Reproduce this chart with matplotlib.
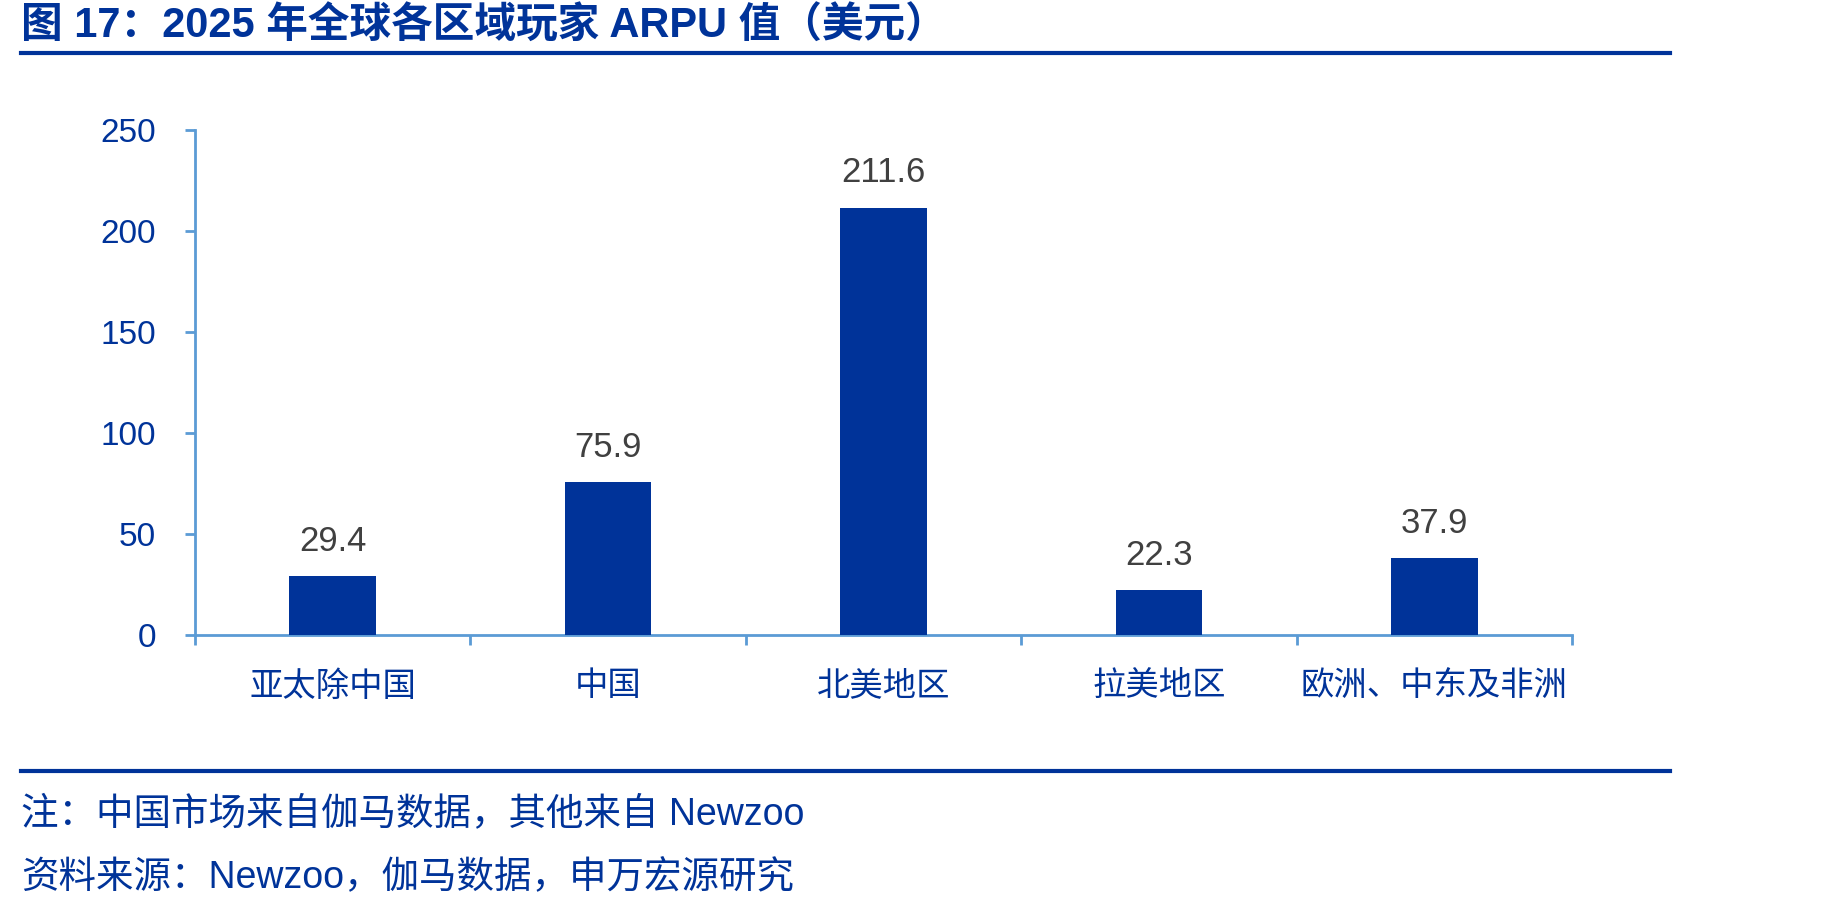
import matplotlib
matplotlib.use("Agg")
import matplotlib.pyplot as plt
from matplotlib.lines import Line2D

plt.rcParams['font.family'] = ['Liberation Sans', 'Noto Sans CJK SC', 'DejaVu Sans']

regions = ['亚太除中国', '中国', '北美地区', '拉美地区', '欧洲、中东及非洲']
arpu = [29.4, 75.9, 211.6, 22.3, 37.9]
yticks = [0, 50, 100, 150, 200, 250]

title = '图 17：2025 年全球各区域玩家 ARPU 值（美元）'
note = '注：中国市场来自伽马数据，其他来自 Newzoo'
source = '资料来源：Newzoo，伽马数据，申万宏源研究'

blue = '#003399'
axis_blue = '#5B9BD5'
label_grey = '#404040'

fig = plt.figure(figsize=(18.41, 9.14), dpi=100)
ax = fig.add_axes([0.1059, 0.3053, 0.748, 0.5525])

x = list(range(len(regions)))
bars = ax.bar(x, arpu, width=0.315, color=blue, zorder=3)

for xi, v in zip(x, arpu):
    ax.annotate(f'{v:.1f}', (xi, v), xytext=(0, 13), textcoords='offset points',
                ha='center', va='bottom', fontsize=25, color=label_grey)

ax.set_xlim(-0.5, len(regions) - 0.5)
ax.set_ylim(0, 250)
ax.set_yticks(yticks)
ax.set_yticklabels([str(t) for t in yticks])

# ticks on category boundaries, labels in the middle
ax.set_xticks([i - 0.5 for i in range(len(regions) + 1)])
ax.set_xticklabels([])
ax.set_xticks(x, minor=True)
ax.set_xticklabels(regions, minor=True)
ax.tick_params(axis='x', which='minor', length=0, pad=26, labelsize=24, labelcolor=blue)
ax.tick_params(axis='x', which='major', length=7, width=2, color=axis_blue, direction='out')
ax.tick_params(axis='y', length=7, width=2, color=axis_blue, pad=21, labelsize=24, labelcolor=blue)

for s in ['top', 'right']:
    ax.spines[s].set_visible(False)
for s in ['left', 'bottom']:
    ax.spines[s].set_color(axis_blue)
    ax.spines[s].set_linewidth(2)

fig.text(0.0114, 0.9705, title, fontsize=30, fontweight='bold', color=blue,
         ha='left', va='center')
fig.add_artist(Line2D([0.0114, 0.907], [0.942, 0.942], color=blue, linewidth=3,
                      transform=fig.transFigure))
fig.add_artist(Line2D([0.0114, 0.907], [0.1565, 0.1565], color=blue, linewidth=3,
                      transform=fig.transFigure))
fig.text(0.0114, 0.1094, note, fontsize=27, color=blue, ha='left', va='center')
fig.text(0.0114, 0.0394, source, fontsize=27, color=blue, ha='left', va='center')

fig.savefig('out.png', dpi=100)
